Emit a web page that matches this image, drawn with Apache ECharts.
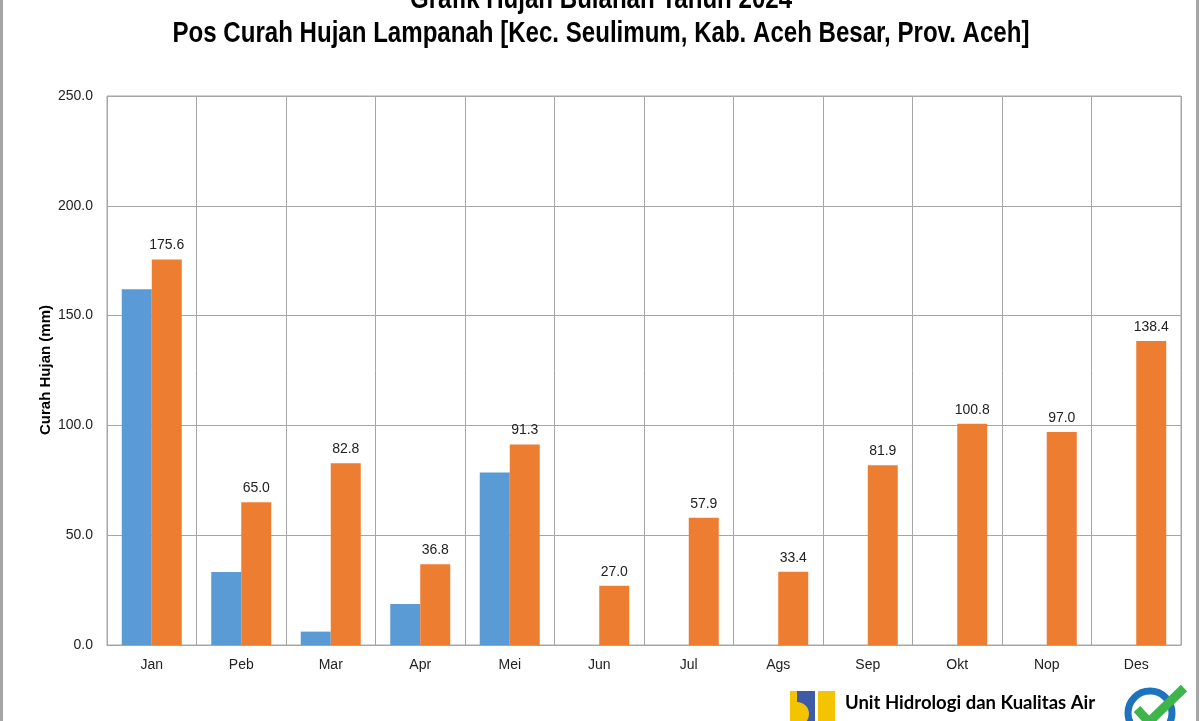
<!DOCTYPE html>
<html>
<head>
<meta charset="utf-8">
<script src="https://cdn.jsdelivr.net/npm/echarts@6/dist/echarts.min.js"></script>
<style>html,body{margin:0;padding:0;background:#fff;}#c{width:1200px;height:721px;}</style>
</head>
<body>
<div id="c"></div>
<script>
var categories = ['Jan','Peb','Mar','Apr','Mei','Jun','Jul','Ags','Sep','Okt','Nop','Des'];
var seriesBlue = [162.0, 33.2, 6.1, 18.7, 78.6, null, null, null, null, null, null, null];
var seriesOrange = [175.6, 65.0, 82.8, 36.8, 91.3, 27.0, 57.9, 33.4, 81.9, 100.8, 97.0, 138.4];
var yTicks = {min: 0, max: 250, interval: 50};
var titleLine1 = 'Grafik Hujan Bulanan Tahun 2024';
var titleLine2 = 'Pos Curah Hujan Lampanah [Kec. Seulimum, Kab. Aceh Besar, Prov. Aceh]';
var yName = 'Curah Hujan (mm)';
var footer1 = 'Unit Hidrologi dan Kualitas Air';
var footer2 = 'Balai Wilayah Sungai Sumatera I';

var sans = "'Liberation Sans',Arial,sans-serif";
var titleFont = "bold 29px 'Liberation Sans',Arial,sans-serif";
var chart = echarts.init(document.getElementById('c'), null, {renderer: 'canvas'});
chart.setOption({
  backgroundColor: '#fff',
  animation: false,
  grid: {left: 107, right: 19, top: 96, bottom: 76, show: true, borderColor: '#a6a6a6', borderWidth: 1},
  xAxis: {
    type: 'category', data: categories,
    axisLine: {show: true, lineStyle: {color: '#a6a6a6'}},
    axisTick: {show: false},
    splitLine: {show: true, lineStyle: {color: '#a6a6a6'}},
    axisLabel: {fontFamily: sans, fontSize: 14, color: '#222', margin: 13}
  },
  yAxis: {
    type: 'value', min: yTicks.min, max: yTicks.max, interval: yTicks.interval,
    axisLine: {show: false}, axisTick: {show: false},
    splitLine: {show: true, lineStyle: {color: '#a6a6a6'}},
    axisLabel: {fontFamily: sans, fontSize: 14, color: '#222', margin: 14, formatter: function(v){return v.toFixed(1);}}
  },
  series: [
    {type: 'bar', data: seriesBlue, barWidth: 30, barGap: '0%', itemStyle: {color: '#5B9BD5'}},
    {type: 'bar', data: seriesOrange, barWidth: 30, barGap: '0%', itemStyle: {color: '#ED7D31'},
     label: {show: true, position: 'top', distance: 7, fontFamily: sans, fontSize: 14, color: '#222',
       formatter: function(p){return p.value.toFixed(1);}}}
  ],
  graphic: [
    {type: 'rect', shape: {x: 1.5, y: -10, width: 1196, height: 740}, style: {fill: 'none', stroke: '#a6a6a6', lineWidth: 3}, silent: true},
    {type: 'text', x: 601, y: 14, scaleX: 0.83, style: {x: 0, y: 0, text: titleLine1, fill: '#000', font: titleFont, textAlign: 'center', textVerticalAlign: 'bottom'}},
    {type: 'text', x: 601, y: 48, scaleX: 0.83, style: {x: 0, y: 0, text: titleLine2, fill: '#000', font: titleFont, textAlign: 'center', textVerticalAlign: 'bottom'}},
    {type: 'text', x: 46, y: 370, rotation: Math.PI / 2, style: {x: 0, y: 0, text: yName, fill: '#000', font: "bold 15px 'Liberation Sans',Arial,sans-serif", textAlign: 'center', textVerticalAlign: 'middle'}},
    {type: 'rect', shape: {x: 790, y: 691, width: 45, height: 40}, style: {fill: '#F5C400'}},
    {type: 'rect', shape: {x: 797, y: 691, width: 18, height: 40}, style: {fill: '#3F5AA6'}},
    {type: 'sector', shape: {cx: 797, cy: 714, r: 12, r0: 0, startAngle: -Math.PI / 2, endAngle: Math.PI / 2}, style: {fill: '#F5C400'}},
    {type: 'rect', shape: {x: 815, y: 691, width: 3, height: 40}, style: {fill: '#ffffff'}},
    {type: 'text', style: {x: 845, y: 703, text: footer1, fill: '#000', font: "bold 18.5px Lato, 'Open Sans', sans-serif", textVerticalAlign: 'middle'}},
    {type: 'text', style: {x: 845, y: 730, text: footer2, fill: '#000', font: "bold 18.5px Lato, 'Open Sans', sans-serif", textVerticalAlign: 'middle'}},
    {type: 'circle', shape: {cx: 1150, cy: 713, r: 22}, style: {fill: 'none', stroke: '#1E73BE', lineWidth: 7}},
    {type: 'polyline', shape: {points: [[1137, 709], [1149, 722], [1184, 688]]}, style: {stroke: '#3DB54A', lineWidth: 9, fill: 'none'}}
  ]
});
</script>
</body>
</html>
